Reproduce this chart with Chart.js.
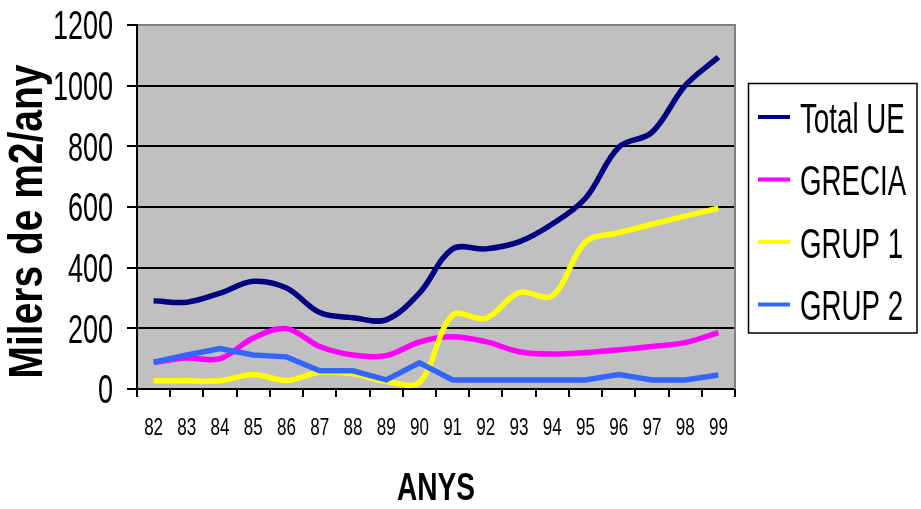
<!DOCTYPE html>
<html>
<head>
<meta charset="utf-8">
<script src="https://cdn.jsdelivr.net/npm/chart.js@4/dist/chart.umd.min.js"></script>
<style>
  html, body { margin: 0; padding: 0; background: #fff; overflow: hidden; }
  #wrap { position: absolute; left: 0; top: 0; width: 921px; height: 509px; }
</style>
</head>
<body>
<div id="wrap"><canvas id="c"></canvas></div>
<script>
// Years (19xx) on the category axis
const years = ['82','83','84','85','86','87','88','89','90','91','92','93','94','95','96','97','98','99'];

// Thousands of m2 per year
const totalUE = [291, 286, 316, 355, 333, 252, 235, 228, 316, 462, 462, 485, 544, 629, 797, 846, 1000, 1094];
const grecia  = [88, 102, 100, 168, 199, 140, 112, 110, 155, 172, 156, 123, 115, 120, 129, 140, 153, 186];
const grup1   = [27, 27, 27, 48, 28, 55, 50, 25, 22, 244, 233, 318, 307, 485, 515, 543, 570, 596];
const grup2   = [88, 112, 133, 112, 106, 60, 60, 30, 86, 30, 30, 30, 30, 30, 48, 30, 30, 46];

const yMin = 0, yMax = 1200, yStep = 200;

const yTitle = 'Milers de m2/any';
const xTitle = 'ANYS';

const FONT = '"Liberation Sans", Arial, sans-serif';

// condensed text: a regular face squeezed horizontally (sx) around its anchor
function squeezedText(ctx, text, x, y, o) {
  ctx.save();
  ctx.translate(x, y);
  if (o.rot) ctx.rotate(o.rot);
  ctx.scale(o.sx, 1);
  ctx.font = (o.bold ? 'bold ' : '') + o.size + 'px ' + FONT;
  ctx.fillStyle = '#000';
  ctx.textAlign = o.align || 'left';
  ctx.textBaseline = 'alphabetic';
  // baseline set so the cap height is centred on the anchor
  ctx.fillText(text, 0, 0.358 * o.size);
  ctx.restore();
}

// grey plot background plus the grey right-hand frame
const plotFrame = {
  id: 'plotFrame',
  beforeDraw(chart) {
    const { ctx, chartArea: a } = chart;
    ctx.save();
    ctx.fillStyle = '#c0c0c0';
    ctx.fillRect(a.left, a.top, a.right - a.left, a.bottom - a.top);
    ctx.restore();
  },
  beforeDatasetsDraw(chart) {
    const { ctx, chartArea: a } = chart;
    ctx.save();
    ctx.strokeStyle = '#808080';
    ctx.lineWidth = 2;
    ctx.beginPath();
    ctx.moveTo(a.right, a.top - 1);
    ctx.lineTo(a.right, a.bottom);
    ctx.stroke();
    ctx.restore();
  }
};

// tick labels, axis titles and the boxed legend
const axisText = {
  id: 'axisText',
  afterDraw(chart) {
    const ctx = chart.ctx;
    const xs = chart.scales.x, ys = chart.scales.y;

    ys.ticks.forEach(t => {
      squeezedText(ctx, String(t.value), 113, ys.getPixelForValue(t.value),
                   { size: 40.5, sx: 0.667, align: 'right' });
    });
    years.forEach((lab, i) => {
      squeezedText(ctx, lab, xs.getPixelForValue(i), 427,
                   { size: 23.7, sx: 0.72, align: 'center' });
    });

    const midX = (chart.chartArea.left + chart.chartArea.right) / 2;
    squeezedText(ctx, xTitle, midX, 486, { size: 39, sx: 0.72, bold: true, align: 'center' });
    squeezedText(ctx, yTitle, 25, 221.5,
                 { size: 47.5, sx: 0.82, bold: true, align: 'center', rot: -Math.PI / 2 });

    ctx.save();
    ctx.strokeStyle = '#000';
    ctx.lineWidth = 1.5;
    ctx.strokeRect(748.5, 83.5, 168.5, 249.5);
    chart.data.datasets.forEach((ds, i) => {
      const y = 117 + i * 62.5;
      ctx.strokeStyle = ds.borderColor;
      ctx.lineWidth = 4;
      ctx.beginPath();
      ctx.moveTo(758, y);
      ctx.lineTo(790, y);
      ctx.stroke();
      squeezedText(ctx, ds.label, 800, y, { size: 43.3, sx: 0.64 });
    });
    ctx.restore();
  }
};

new Chart(document.getElementById('c'), {
  type: 'line',
  data: {
    labels: years,
    datasets: [
      { label: 'Total UE', data: totalUE, borderColor: '#000080', tension: 0.35, order: 4 },
      { label: 'GRECIA',   data: grecia,  borderColor: '#ff00ff', tension: 0.35, order: 3 },
      { label: 'GRUP 1',   data: grup1,   borderColor: '#ffff00', tension: 0.35, order: 2 },
      { label: 'GRUP 2',   data: grup2,   borderColor: '#3366ff', tension: 0,    order: 1 }
    ]
  },
  options: {
    responsive: true,
    maintainAspectRatio: false,
    animation: false,
    layout: { autoPadding: false, padding: { left: 0, right: 186, top: 25, bottom: 0 } },
    elements: {
      line: { borderWidth: 5.5, fill: false },
      point: { radius: 0, hoverRadius: 0 }
    },
    plugins: { legend: { display: false }, tooltip: { enabled: false } },
    scales: {
      x: {
        type: 'category',
        offset: true,
        grid: { offset: true, drawOnChartArea: false, drawTicks: true, tickLength: 8,
                color: '#000', lineWidth: 2 },
        border: { color: '#000', width: 2 },
        ticks: { display: false, autoSkip: false },
        afterFit(s) { s.height = 120; }
      },
      y: {
        min: yMin, max: yMax,
        ticks: { display: false, stepSize: yStep },
        grid: {
          color: c => (c.tick && c.tick.value === yMax) ? '#808080' : '#000',
          tickColor: '#000', lineWidth: 2, tickLength: 10
        },
        border: { color: '#000', width: 2 },
        afterFit(s) { s.width = 137; }
      }
    }
  },
  plugins: [plotFrame, axisText]
});
</script>
</body>
</html>
